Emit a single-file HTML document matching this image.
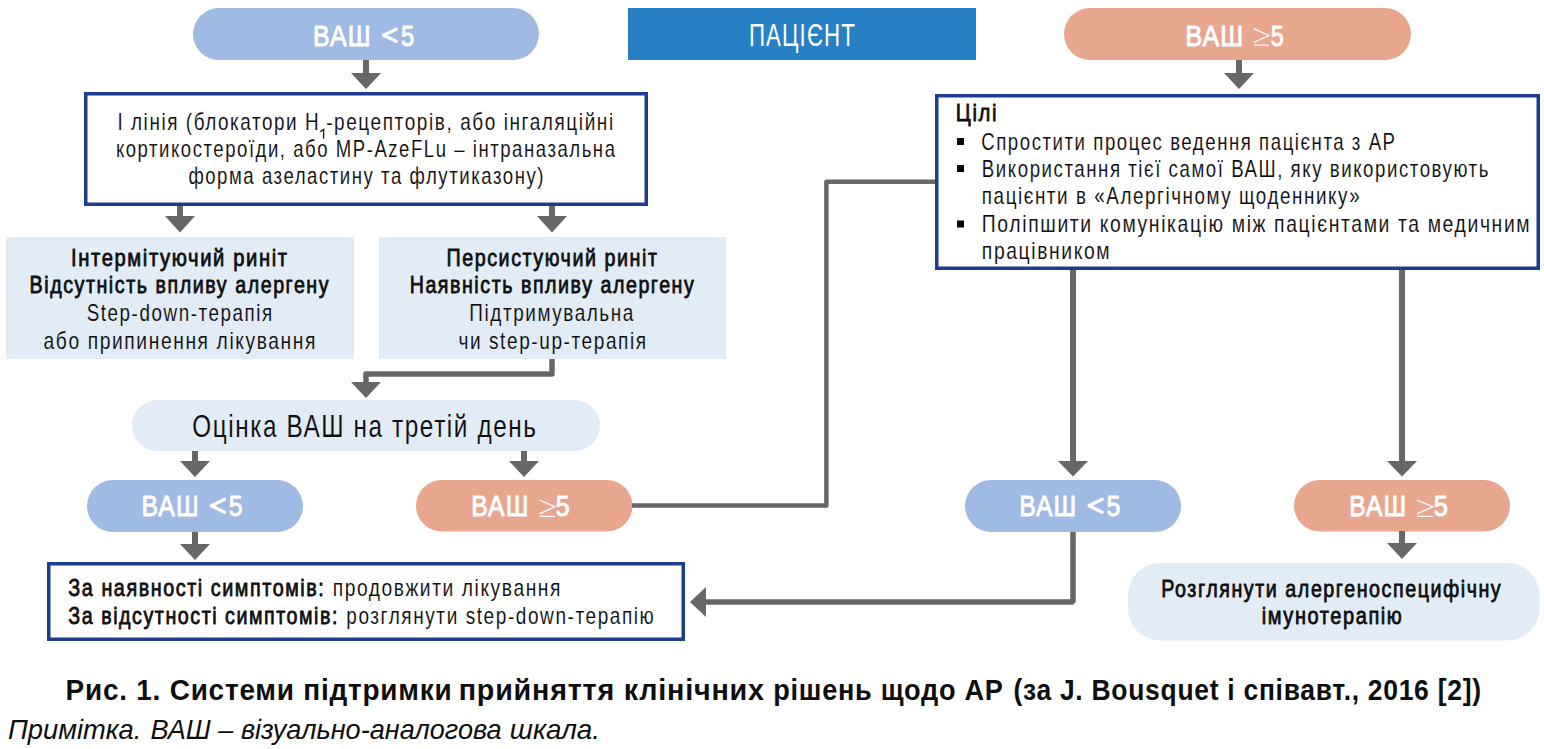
<!DOCTYPE html>
<html><head><meta charset="utf-8"><style>
html,body{margin:0;padding:0;background:#fff;width:1544px;height:749px;overflow:hidden}
svg{display:block}
text{font-family:"Liberation Sans", sans-serif;white-space:pre}
</style></head><body>
<svg width="1544" height="749" viewBox="0 0 1544 749">
<!-- top pills -->
<rect x="193" y="8" width="346" height="52" rx="26" fill="#9fbae3"/>
<rect x="628" y="8" width="348" height="52" fill="#2780c3"/>
<rect x="1064" y="8" width="347" height="52" rx="26" fill="#e8a68f"/>
<!-- boxes -->
<rect x="85.75" y="93.75" width="560.5" height="110.5" fill="#fff" stroke="#1b3f8e" stroke-width="3.5"/>
<rect x="936.75" y="95.75" width="601.5" height="172.5" fill="#fff" stroke="#1b3f8e" stroke-width="3.5"/>
<rect x="6" y="237" width="348" height="122" fill="#e2ecf7"/>
<rect x="379" y="237" width="347" height="122" fill="#e2ecf7"/>
<rect x="132" y="400" width="468" height="51" rx="25.5" fill="#e2ecf7"/>
<rect x="87" y="480" width="216" height="52" rx="26" fill="#9fbae3"/>
<rect x="416" y="480" width="216.5" height="51.5" rx="25.75" fill="#e8a68f"/>
<rect x="965" y="480" width="216" height="52" rx="26" fill="#9fbae3"/>
<rect x="1294" y="480" width="216" height="51.5" rx="25.75" fill="#e8a68f"/>
<rect x="48.75" y="563.75" width="634.5" height="75.5" fill="#fff" stroke="#1b3f8e" stroke-width="3.5"/>
<rect x="1128" y="563" width="411.5" height="77.5" rx="32" fill="#e2ecf7"/>
<g fill="#080808">
<rect x="957" y="138" width="7" height="7"/>
<rect x="957" y="165" width="7" height="7"/>
<rect x="957" y="220.5" width="7" height="7"/>
</g>
<path d="M320.3,131.6 L323.6,129.4 L323.6,138.7" fill="none" stroke="#141414" stroke-width="1.3"/>
<path d="M1253.8,28.700000000000003 L1268.8,35.5 L1253.8,42.5 M1253.8,45.1 L1268.8,45.1" fill="none" stroke="#fff" stroke-width="1.35"/>
<path d="M539.5,500 L555,506.8 L539.5,513.8 M539.5,516.4 L555,516.4" fill="none" stroke="#fff" stroke-width="1.35"/>
<path d="M1417,500 L1432.8,506.8 L1417,513.8 M1417,516.4 L1432.8,516.4" fill="none" stroke="#fff" stroke-width="1.35"/>
<g fill="none" stroke="#fff" stroke-width="3.3" stroke-linecap="round" stroke-linejoin="round">
<path d="M396.2,29.2 L383.5,35.2 L396.2,41.2"/>
<path d="M224.5,499.3 L211.5,505.8 L224.5,512.3"/>
<path d="M1102.1,499.3 L1089.1,505.8 L1102.1,512.3"/>
</g>
<!-- arrows -->
<g fill="#676767">
<rect x="363" y="60" width="6" height="14"/><polygon points="351,73 381,73 366,89"/>
<rect x="1236" y="60" width="6" height="14"/><polygon points="1224,73 1254,73 1239,89"/>
<rect x="177" y="206" width="6" height="11"/><polygon points="165,216 195,216 180,232.5"/>
<rect x="549" y="206" width="6" height="11"/><polygon points="537,216 567,216 552,232.5"/>
<polygon points="351,382 381,382 366,398"/>
<rect x="192" y="451" width="6" height="11"/><polygon points="180,461 210,461 195,477"/>
<rect x="521" y="451" width="6" height="11"/><polygon points="509,461 539,461 524,477"/>
<rect x="192" y="532" width="6" height="13"/><polygon points="180,544 210,544 195,560"/>
<rect x="1070" y="270" width="6" height="192"/><polygon points="1058,461 1088,461 1073,476.5"/>
<rect x="1399" y="270" width="6" height="192"/><polygon points="1387,461 1417,461 1402,476.5"/>
<rect x="1399" y="531" width="6" height="13"/><polygon points="1387,543 1417,543 1402,559"/>
<polygon points="706,587 706,617 690,602"/>
</g>
<g fill="none" stroke="#676767" stroke-width="5.5" stroke-linejoin="round">
<polyline points="552,359 552,374 366,374 366,383"/>
<polyline points="632,505.4 826.4,505.4 826.4,181.8 935,181.8" stroke-width="4.5"/>
<polyline points="1073,532 1073,602 705,602" stroke-linejoin="bevel"/>
</g>

<text x="313.11" y="45.6" font-size="29.5" textLength="58.40" lengthAdjust="spacingAndGlyphs" fill="#ffffff" letter-spacing="1.3" stroke="#ffffff" stroke-width="1.0" stroke-linejoin="round">ВАШ</text>
<text x="400.99" y="45.6" font-size="29.5" textLength="13.23" lengthAdjust="spacingAndGlyphs" fill="#ffffff" stroke="#ffffff" stroke-width="1.0" stroke-linejoin="round">5</text>
<text x="748.96" y="45.6" font-size="31" textLength="106.97" lengthAdjust="spacingAndGlyphs" fill="#ffffff" letter-spacing="1.5">ПАЦІЄНТ</text>
<text x="1185.61" y="45.5" font-size="29.5" textLength="58.61" lengthAdjust="spacingAndGlyphs" fill="#ffffff" letter-spacing="1.3" stroke="#ffffff" stroke-width="1.0" stroke-linejoin="round">ВАШ</text>
<text x="1270.71" y="45.5" font-size="29.5" textLength="13.02" lengthAdjust="spacingAndGlyphs" fill="#ffffff" stroke="#ffffff" stroke-width="1.0" stroke-linejoin="round">5</text>
<text x="117.38" y="129.5" font-size="24" textLength="202.90" lengthAdjust="spacingAndGlyphs" fill="#0e0e0e" letter-spacing="2.0" stroke="#ffffff" stroke-width="0.1">І лінія (блокатори H</text>
<text x="326.16" y="129.5" font-size="24" textLength="288.53" lengthAdjust="spacingAndGlyphs" fill="#0e0e0e" letter-spacing="2.0" stroke="#ffffff" stroke-width="0.1">-рецепторів, або інгаляційні</text>
<text x="115.88" y="157" font-size="24" textLength="500.61" lengthAdjust="spacingAndGlyphs" fill="#0e0e0e" letter-spacing="2.0" stroke="#ffffff" stroke-width="0.1">кортикостероїди, або MP-AzeFLu – інтраназальна</text>
<text x="188.38" y="184" font-size="24" textLength="356.69" lengthAdjust="spacingAndGlyphs" fill="#0e0e0e" letter-spacing="2.0" stroke="#ffffff" stroke-width="0.1">форма азеластину та флутиказону)</text>
<text x="71.02" y="265.5" font-size="24" textLength="217.58" lengthAdjust="spacingAndGlyphs" fill="#0e0e0e" letter-spacing="1.9" stroke="#0e0e0e" stroke-width="0.8" stroke-linejoin="round">Інтермітуючий риніт</text>
<text x="29.58" y="293.4" font-size="24" textLength="300.57" lengthAdjust="spacingAndGlyphs" fill="#0e0e0e" letter-spacing="1.9" stroke="#0e0e0e" stroke-width="0.8" stroke-linejoin="round">Відсутність впливу алергену</text>
<text x="86.67" y="320.8" font-size="24" textLength="187.13" lengthAdjust="spacingAndGlyphs" fill="#0e0e0e" letter-spacing="2.0" stroke="#e2ecf7" stroke-width="0.1">Step-down-терапія</text>
<text x="43.55" y="348.7" font-size="24" textLength="273.50" lengthAdjust="spacingAndGlyphs" fill="#0e0e0e" letter-spacing="2.0" stroke="#e2ecf7" stroke-width="0.1">або припинення лікування</text>
<text x="446.48" y="265.5" font-size="24" textLength="212.07" lengthAdjust="spacingAndGlyphs" fill="#0e0e0e" letter-spacing="1.9" stroke="#0e0e0e" stroke-width="0.8" stroke-linejoin="round">Персистуючий риніт</text>
<text x="409.68" y="293.4" font-size="24" textLength="285.67" lengthAdjust="spacingAndGlyphs" fill="#0e0e0e" letter-spacing="1.9" stroke="#0e0e0e" stroke-width="0.8" stroke-linejoin="round">Наявність впливу алергену</text>
<text x="469.36" y="320.8" font-size="24" textLength="165.55" lengthAdjust="spacingAndGlyphs" fill="#0e0e0e" letter-spacing="2.0" stroke="#e2ecf7" stroke-width="0.1">Підтримувальна</text>
<text x="458.46" y="348.7" font-size="24" textLength="189.17" lengthAdjust="spacingAndGlyphs" fill="#0e0e0e" letter-spacing="2.0" stroke="#e2ecf7" stroke-width="0.1">чи step-up-терапія</text>
<text x="192.25" y="437" font-size="30.5" textLength="345.30" lengthAdjust="spacingAndGlyphs" fill="#0e0e0e" letter-spacing="2.0" stroke="#e2ecf7" stroke-width="0.1">Оцінка ВАШ на третій день</text>
<text x="141.62" y="516.0" font-size="29.5" textLength="58.07" lengthAdjust="spacingAndGlyphs" fill="#ffffff" letter-spacing="1.3" stroke="#ffffff" stroke-width="1.0" stroke-linejoin="round">ВАШ</text>
<text x="228.86" y="516.0" font-size="29.5" textLength="13.78" lengthAdjust="spacingAndGlyphs" fill="#ffffff" stroke="#ffffff" stroke-width="1.0" stroke-linejoin="round">5</text>
<text x="471.32" y="516.0" font-size="29.5" textLength="58.07" lengthAdjust="spacingAndGlyphs" fill="#ffffff" letter-spacing="1.3" stroke="#ffffff" stroke-width="1.0" stroke-linejoin="round">ВАШ</text>
<text x="555.86" y="516.0" font-size="29.5" textLength="13.78" lengthAdjust="spacingAndGlyphs" fill="#ffffff" stroke="#ffffff" stroke-width="1.0" stroke-linejoin="round">5</text>
<text x="1019.22" y="516.0" font-size="29.5" textLength="58.07" lengthAdjust="spacingAndGlyphs" fill="#ffffff" letter-spacing="1.3" stroke="#ffffff" stroke-width="1.0" stroke-linejoin="round">ВАШ</text>
<text x="1106.46" y="516.0" font-size="29.5" textLength="13.78" lengthAdjust="spacingAndGlyphs" fill="#ffffff" stroke="#ffffff" stroke-width="1.0" stroke-linejoin="round">5</text>
<text x="1349.33" y="516.0" font-size="29.5" textLength="57.96" lengthAdjust="spacingAndGlyphs" fill="#ffffff" letter-spacing="1.3" stroke="#ffffff" stroke-width="1.0" stroke-linejoin="round">ВАШ</text>
<text x="1433.84" y="516.0" font-size="29.5" textLength="14.11" lengthAdjust="spacingAndGlyphs" fill="#ffffff" stroke="#ffffff" stroke-width="1.0" stroke-linejoin="round">5</text>
<text x="955.85" y="121.4" font-size="24" textLength="42.28" lengthAdjust="spacingAndGlyphs" fill="#0e0e0e" letter-spacing="1.9" stroke="#0e0e0e" stroke-width="0.8" stroke-linejoin="round">Цілі</text>
<text x="981.27" y="149.8" font-size="24" textLength="415.31" lengthAdjust="spacingAndGlyphs" fill="#0e0e0e" letter-spacing="2.0" stroke="#ffffff" stroke-width="0.1">Спростити процес ведення пацієнта з АР</text>
<text x="981.87" y="176.7" font-size="24" textLength="508.12" lengthAdjust="spacingAndGlyphs" fill="#0e0e0e" letter-spacing="2.0" stroke="#ffffff" stroke-width="0.1">Використання тієї самої ВАШ, яку використовують</text>
<text x="981.87" y="204.4" font-size="24" textLength="379.42" lengthAdjust="spacingAndGlyphs" fill="#0e0e0e" letter-spacing="2.0" stroke="#ffffff" stroke-width="0.1">пацієнти в «Алергічному щоденнику»</text>
<text x="981.84" y="231.5" font-size="24" textLength="549.43" lengthAdjust="spacingAndGlyphs" fill="#0e0e0e" letter-spacing="2.0" stroke="#ffffff" stroke-width="0.1">Поліпшити комунікацію між пацієнтами та медичним</text>
<text x="981.85" y="259.2" font-size="24" textLength="129.32" lengthAdjust="spacingAndGlyphs" fill="#0e0e0e" letter-spacing="2.0" stroke="#ffffff" stroke-width="0.1">працівником</text>
<text x="68.30" y="596.1" font-size="24" textLength="257.14" lengthAdjust="spacingAndGlyphs" fill="#0e0e0e" letter-spacing="1.9" stroke="#0e0e0e" stroke-width="0.8" stroke-linejoin="round">За наявності симптомів:</text>
<text x="332.65" y="596.1" font-size="24" textLength="229.39" lengthAdjust="spacingAndGlyphs" fill="#0e0e0e" letter-spacing="2.0" stroke="#ffffff" stroke-width="0.1">продовжити лікування</text>
<text x="68.30" y="624.3" font-size="24" textLength="270.72" lengthAdjust="spacingAndGlyphs" fill="#0e0e0e" letter-spacing="1.9" stroke="#0e0e0e" stroke-width="0.8" stroke-linejoin="round">За відсутності симптомів:</text>
<text x="346.26" y="624.3" font-size="24" textLength="309.16" lengthAdjust="spacingAndGlyphs" fill="#0e0e0e" letter-spacing="2.0" stroke="#ffffff" stroke-width="0.1">розглянути step-down-терапію</text>
<text x="1161.28" y="596.7" font-size="24" textLength="340.98" lengthAdjust="spacingAndGlyphs" fill="#0e0e0e" letter-spacing="1.9" stroke="#0e0e0e" stroke-width="0.8" stroke-linejoin="round">Розглянути алергеноспецифічну</text>
<text x="1261.77" y="624.1" font-size="24" textLength="141.65" lengthAdjust="spacingAndGlyphs" fill="#0e0e0e" letter-spacing="1.9" stroke="#0e0e0e" stroke-width="0.8" stroke-linejoin="round">імунотерапію</text>
<text x="65.54" y="700.2" font-size="29" textLength="386.90" lengthAdjust="spacingAndGlyphs" fill="#0e0e0e" letter-spacing="0.8" font-weight="bold">Рис. 1. Системи підтримки</text>
<text x="458.72" y="700.2" font-size="29" textLength="306.00" lengthAdjust="spacingAndGlyphs" fill="#0e0e0e" letter-spacing="0.8" font-weight="bold">прийняття клінічних</text>
<text x="773.27" y="700.2" font-size="29" textLength="230.40" lengthAdjust="spacingAndGlyphs" fill="#0e0e0e" letter-spacing="0.8" font-weight="bold">рішень щодо АР</text>
<text x="1013.39" y="700.2" font-size="29" textLength="346.50" lengthAdjust="spacingAndGlyphs" fill="#0e0e0e" letter-spacing="0.8" font-weight="bold">(за J. Bousquet і співавт.,</text>
<text x="1367.69" y="700.2" font-size="29" textLength="114.15" lengthAdjust="spacingAndGlyphs" fill="#0e0e0e" letter-spacing="0.8" font-weight="bold">2016 [2])</text>
<text x="8.00" y="738.5" font-size="28.5" textLength="133.40" lengthAdjust="spacingAndGlyphs" fill="#0e0e0e" font-style="italic">Примітка.</text>
<text x="150.60" y="738.5" font-size="28.5" textLength="351.01" lengthAdjust="spacingAndGlyphs" fill="#0e0e0e" font-style="italic">ВАШ – візуально-аналогова</text>
<text x="509.82" y="738.5" font-size="28.5" textLength="90.22" lengthAdjust="spacingAndGlyphs" fill="#0e0e0e" font-style="italic">шкала.</text>
</svg>
</body></html>
